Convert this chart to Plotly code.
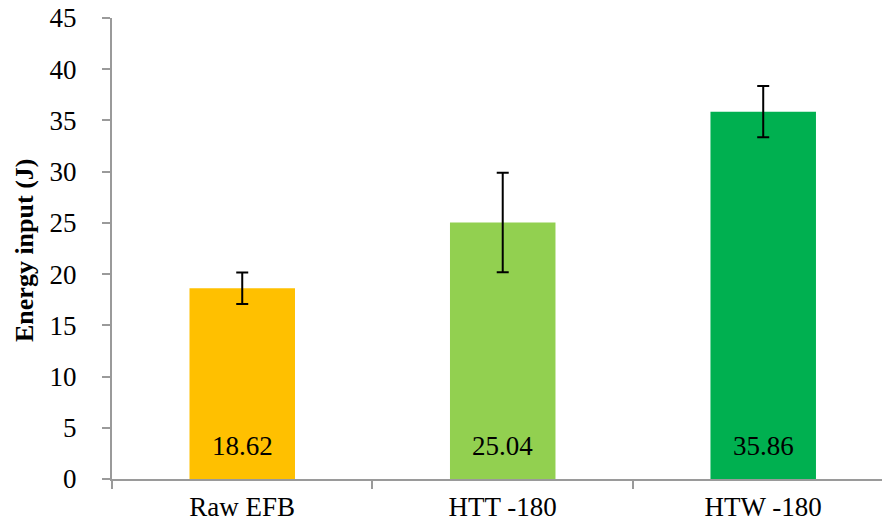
import plotly.graph_objects as go

# Energy input per treatment
categories = ["Raw EFB", "HTT -180", "HTW -180"]
energy = [18.62, 25.04, 35.86]
energy_err = [1.53, 4.85, 2.50]
bar_colors = ["#FFC000", "#92D050", "#00B050"]
y_ticks = [0, 5, 10, 15, 20, 25, 30, 35, 40, 45]

FONT = "Liberation Serif"
AXIS_GREY = "#9a9a9a"
TXT = "#000000"
SIZE = 27

fig = go.Figure()
fig.add_trace(go.Bar(
    x=categories,
    y=energy,
    marker=dict(color=bar_colors, line=dict(width=0)),
    error_y=dict(type="data", array=energy_err, visible=True,
                 color="#000000", thickness=2, width=6),
    showlegend=False,
    hoverinfo="skip",
))

# value labels near the foot of each bar
for cat, val in zip(categories, energy):
    fig.add_annotation(
        x=cat, y=0, xref="x", yref="y",
        text=f"{val:.2f}", showarrow=False,
        yanchor="middle", yshift=33.5,
        font=dict(family=FONT, size=SIZE, color=TXT),
    )

# rotated y-axis title
fig.add_annotation(
    xref="paper", yref="paper",
    x=(24 - 112) / 770, y=(479 - 251) / 461,
    text="<b>Energy input (J)</b>", textangle=-90, showarrow=False,
    xanchor="center", yanchor="middle",
    font=dict(family=FONT, size=26, color=TXT),
)

fig.update_layout(
    width=882, height=528,
    margin=dict(l=112, r=0, t=18, b=49, autoexpand=False),
    paper_bgcolor="white", plot_bgcolor="white",
    bargap=0.595,
    font=dict(family=FONT, size=SIZE, color=TXT),
)
fig.update_xaxes(
    type="category", range=[-0.5, 2.456],
    showline=True, linecolor=AXIS_GREY, linewidth=2,
    ticks="outside", tickson="boundaries", ticklen=8,
    tickcolor=AXIS_GREY, tickwidth=2,
    showgrid=False, zeroline=False,
    tickfont=dict(family=FONT, size=SIZE, color=TXT),
    ticklabelstandoff=3,
)
fig.update_yaxes(
    range=[0, 45], tickvals=y_ticks,
    showline=True, linecolor=AXIS_GREY, linewidth=2,
    ticks="outside", ticklen=8, tickcolor=AXIS_GREY, tickwidth=2,
    showgrid=False, zeroline=False,
    tickfont=dict(family=FONT, size=SIZE, color=TXT),
    ticklabelstandoff=20,
)

fig.write_html("out.html")
